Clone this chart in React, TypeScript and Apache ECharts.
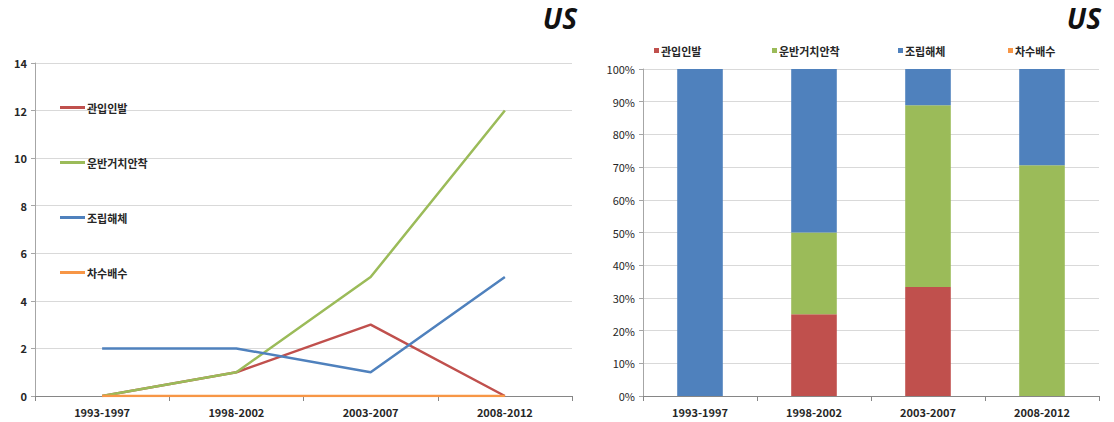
import React, { useEffect, useRef } from "react";
import * as echarts from "echarts";

const categories = ["1993-1997", "1998-2002", "2003-2007", "2008-2012"];
const seriesNames = ["관입인발", "운반거치안착", "조립해체", "차수배수"];
const gwanipInbal = [0, 1, 3, 0];
const unbanGeochi = [0, 1, 5, 12];
const joripHaeche = [2, 2, 1, 5];
const chasuBaesu = [0, 0, 0, 0];
const colors = ["#C0504D", "#9BBB59", "#4F81BD", "#F79646"];
const panelTitle = "US";

const FONT = "'Noto Sans CJK KR', 'Noto Sans', sans-serif";

export default function App() {
  const ref = useRef<HTMLDivElement>(null);
  useEffect(() => {
    if (!ref.current) return;
    const chart = echarts.init(ref.current, undefined, { renderer: "svg" });
    const counts = [gwanipInbal, unbanGeochi, joripHaeche, chasuBaesu];
    const totals = categories.map((_, i) => counts.reduce((s, arr) => s + arr[i], 0));
    const percents = counts.map((arr) => arr.map((v, i) => (totals[i] ? (v / totals[i]) * 100 : 0)));

    const axisLabel = { color: "#262626", fontSize: 11, fontWeight: "bold" as const, fontFamily: FONT };
    const leftLegendTops = [97, 152, 207, 262];
    const rightLegendLefts = [649, 767, 893, 1003];

    const titleStyle = {
      text: panelTitle,
      fontSize: 28,
      fontWeight: "bold",
      fontStyle: "italic",
      fontFamily: "'Open Sans', sans-serif",
      fill: "#111",
      align: "right",
      verticalAlign: "middle",
    };

    chart.setOption({
      animation: false,
      textStyle: { fontFamily: FONT },
      graphic: [
        { type: "text", x: 577, y: 18, style: titleStyle },
        { type: "text", x: 1101, y: 18, style: titleStyle },
      ],
      legend: [
        ...seriesNames.map((n, i) => ({
          data: [{ name: n, icon: "rect" }],
          orient: "vertical",
          left: 55,
          top: leftLegendTops[i],
          itemWidth: 25,
          itemHeight: 3,
          selectedMode: false,
          textStyle: { fontSize: 11, fontWeight: "bold", color: "#262626", fontFamily: FONT, padding: [0, 0, 0, -3] },
        })),
        ...seriesNames.map((n, i) => ({
          data: [{ name: n, icon: "rect" }],
          left: rightLegendLefts[i],
          top: 40,
          itemWidth: 5,
          itemHeight: 5,
          selectedMode: false,
          textStyle: { fontSize: 11, fontWeight: "bold", color: "#262626", fontFamily: FONT, padding: [0, 0, 0, -3] },
        })),
      ],
      grid: [
        { left: 35, top: 63, width: 537, height: 333 },
        { left: 643, top: 69, width: 456, height: 327 },
      ],
      xAxis: [0, 1].map((g) => ({
        type: "category",
        gridIndex: g,
        data: categories,
        boundaryGap: true,
        axisLine: { lineStyle: { color: "#868686" } },
        axisTick: { show: true, length: 5, lineStyle: { color: "#868686" } },
        axisLabel: { ...axisLabel, margin: 10 },
      })),
      yAxis: [
        {
          type: "value",
          gridIndex: 0,
          min: 0,
          max: 14,
          interval: 2,
          axisLine: { show: true, lineStyle: { color: "#A6A6A6" } },
          axisTick: { show: true, length: 4, lineStyle: { color: "#A6A6A6" } },
          axisLabel: { ...axisLabel, margin: 8 },
          splitLine: { lineStyle: { color: "#D9D9D9" } },
        },
        {
          type: "value",
          gridIndex: 1,
          min: 0,
          max: 100,
          interval: 10,
          axisLine: { show: true, lineStyle: { color: "#A6A6A6" } },
          axisTick: { show: true, length: 4, lineStyle: { color: "#A6A6A6" } },
          axisLabel: { ...axisLabel, margin: 8, fontWeight: "normal", formatter: "{value}%" },
          splitLine: { lineStyle: { color: "#D9D9D9" } },
        },
      ],
      series: [
        ...seriesNames.map((n, i) => ({
          name: n,
          type: "line",
          xAxisIndex: 0,
          yAxisIndex: 0,
          data: counts[i],
          showSymbol: false,
          symbol: "none",
          lineStyle: { color: colors[i], width: 2.5 },
          itemStyle: { color: colors[i] },
          z: 3,
        })),
        ...seriesNames.map((n, i) => ({
          name: n,
          type: "bar",
          xAxisIndex: 1,
          yAxisIndex: 1,
          stack: "pct",
          data: percents[i],
          barWidth: "40%",
          itemStyle: { color: colors[i] },
        })),
      ],
    });
    return () => chart.dispose();
  }, []);
  return (
    <div
      ref={ref}
      style={{ position: "absolute", left: 0, top: 0, width: 1114, height: 422, background: "#fff" }}
    />
  );
}
